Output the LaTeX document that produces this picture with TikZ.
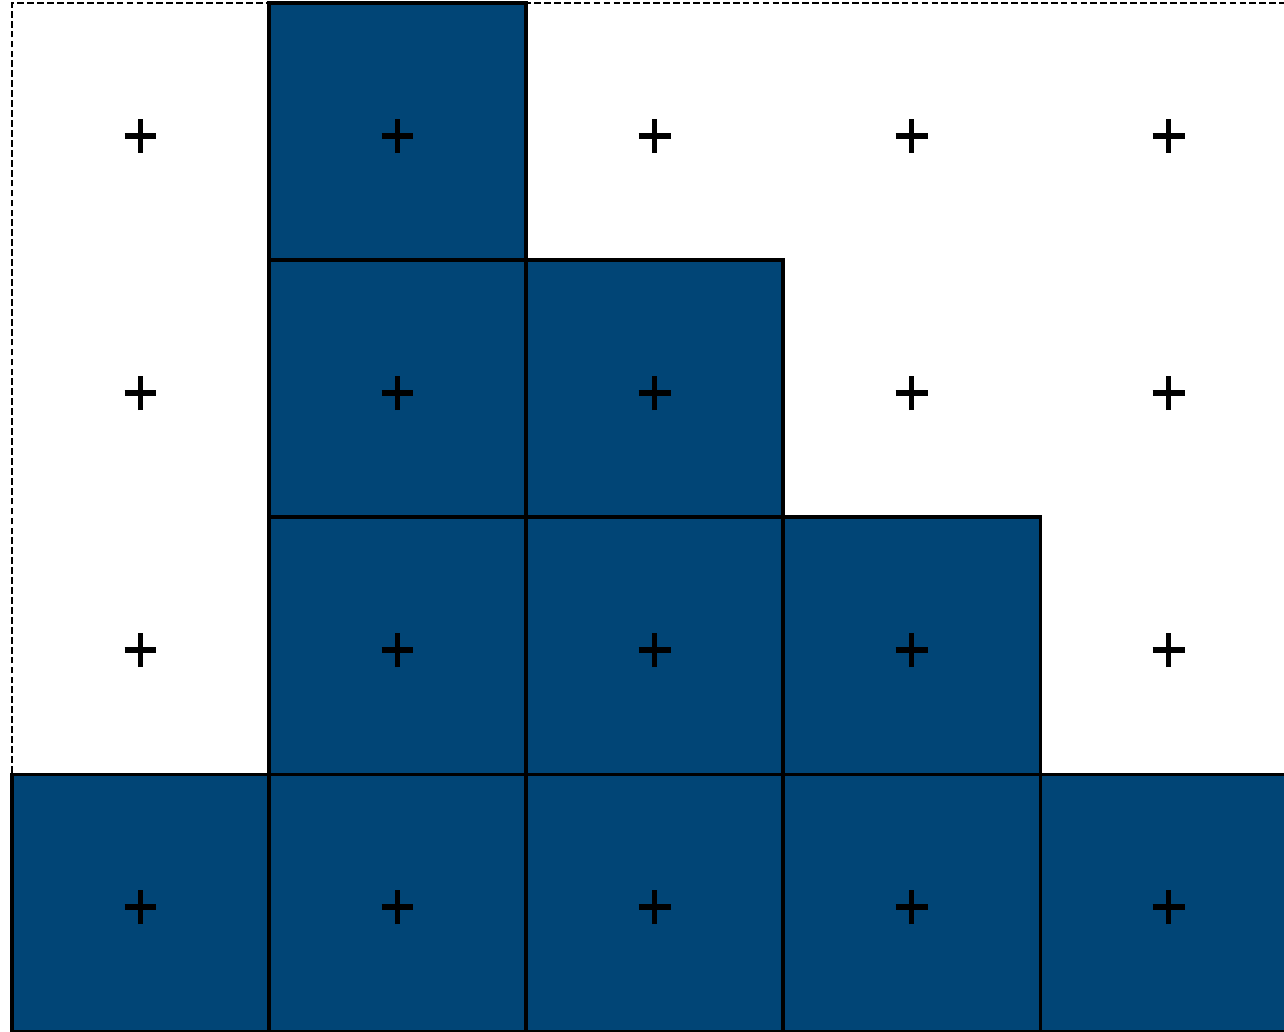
\documentclass[tikz,border=0pt]{standalone}
\definecolor{navy}{RGB}{1,69,118}
\begin{document}
\begin{tikzpicture}[scale=2,
  cell/.style={fill=navy, draw=black, line width=.7pt},
  plus/.style={line width=1.2pt, black}]
\useasboundingbox (-.0467,0) rectangle (4.949,4.0117);
\draw[dashed, dash pattern=on 1.5pt off .7pt, line width=.5pt] (0,0) rectangle (5,4);
% stacked cells
\foreach \c/\h in {0/1,1/4,2/3,3/2,4/1}
  \foreach \r in {1,...,\h}
    \draw[cell] (\c,\r-1) rectangle ++(1,1);
% centre marks
\foreach \x in {0,...,4}
  \foreach \y in {0,...,3}{
    \draw[plus] (\x+.5,\y+.4825) ++(-.062,0) -- ++(.124,0);
    \draw[plus] (\x+.5,\y+.4825) ++(0,-.066) -- ++(0,.132);
  }
\end{tikzpicture}
\end{document}
